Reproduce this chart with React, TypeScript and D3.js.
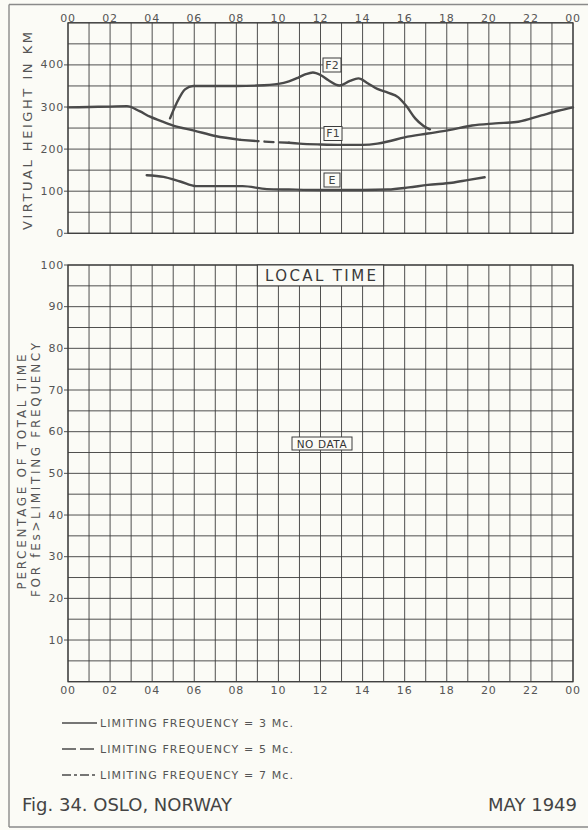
import React from "react";
import * as d3 from "d3";

// Hour-of-day tick labels along the time axes
const hourTicks = [0, 2, 4, 6, 8, 10, 12, 14, 16, 18, 20, 22, 24];
const hourLabels = ["00", "02", "04", "06", "08", "10", "12", "14", "16", "18", "20", "22", "00"];

// Virtual height axis (km)
const heightTicks = [0, 100, 200, 300, 400];
// Percentage axis
const percentTicks = [10, 20, 30, 40, 50, 60, 70, 80, 90, 100];

// Layer heights [hour, km]
const f2Layer: [number, number][] = [
  [4.85, 273], [5.16, 309], [5.56, 342], [5.95, 350], [7, 350], [8, 350], [9, 351],
  [10, 355], [10.5, 361], [10.95, 370], [11.3, 378], [11.64, 382], [12.0, 376],
  [12.36, 364], [12.9, 351], [13.4, 362], [13.8, 368], [14.26, 356], [14.7, 343],
  [15.2, 334], [15.7, 323], [16.1, 301], [16.5, 273], [16.9, 255], [17.2, 247],
];
const f1Layer: [number, number][] = [
  [0, 299], [1, 300], [2, 301], [2.8, 302], [3.4, 290], [3.9, 277], [4.5, 265],
  [5, 256], [6, 244], [7, 231], [8.2, 222], [9, 219], [10, 216], [10.5, 215],
  [11, 213], [12, 211], [13, 210], [14, 210], [14.7, 213], [15.2, 218], [16, 228],
  [17.1, 237], [18.1, 245], [19.2, 256], [20.3, 261], [21.4, 265], [22.5, 280],
  [23.3, 291], [24, 299],
];
const eLayer: [number, number][] = [
  [3.74, 138], [4.54, 134], [5.33, 123], [6.1, 112], [7.07, 112], [8.3, 112],
  [9.45, 105], [10.5, 104], [12, 103], [14, 103], [15.2, 104], [16.2, 109],
  [17.1, 115], [18.25, 120], [19.05, 127], [19.8, 133],
];

const layerNames = ["F2", "F1", "E"];
const legendLabels = [
  "LIMITING  FREQUENCY = 3 Mc.",
  "LIMITING  FREQUENCY = 5 Mc.",
  "LIMITING  FREQUENCY = 7 Mc.",
];

const W = 588;
const H = 830;
const INK = "#4a4a4a";
const GRID = "#3c3c3c";
const TEXT = "#555";
const FONT = "'DejaVu Sans', 'Liberation Sans', sans-serif";

const x = d3.scaleLinear().domain([0, 24]).range([68, 573]);
const yTop = d3.scaleLinear().domain([0, 500]).range([233.3, 22.8]);
const yBot = d3.scaleLinear().domain([0, 100]).range([681.7, 265]);

const line = d3
  .line<[number, number]>()
  .x((d) => x(d[0]))
  .y((d) => yTop(d[1]))
  .curve(d3.curveMonotoneX);

function Grid({ y, step, max }: { y: d3.ScaleLinear<number, number>; step: number; max: number }) {
  const hours = d3.range(0, 25);
  const rows = d3.range(0, max + step / 2, step);
  const [y0, y1] = [y(0), y(max)];
  return (
    <g stroke={GRID} strokeWidth={0.9} fill="none">
      {hours.map((h) => (
        <line key={"v" + h} x1={x(h)} x2={x(h)} y1={y0} y2={y1} />
      ))}
      {rows.map((r) => (
        <line key={"h" + r} x1={x(0)} x2={x(24)} y1={y(r)} y2={y(r)} />
      ))}
      <rect x={x(0)} y={y1} width={x(24) - x(0)} height={y0 - y1} strokeWidth={1.2} />
    </g>
  );
}

function YTicks({ y, ticks }: { y: d3.ScaleLinear<number, number>; ticks: number[] }) {
  return (
    <g fontFamily={FONT} fontSize={11} fill={TEXT}>
      {ticks.map((t) => (
        <g key={t}>
          <line x1={x(0) - 4} x2={x(0)} y1={y(t)} y2={y(t)} stroke={GRID} strokeWidth={0.9} />
          <text x={x(0) - 4} y={y(t)} textAnchor="end" dominantBaseline="central" letterSpacing={0.8}>
            {String(t)}
          </text>
        </g>
      ))}
    </g>
  );
}

function XLabels({ baseline }: { baseline: number }) {
  return (
    <g fontFamily={FONT} fontSize={11} fill={TEXT} textAnchor="middle" letterSpacing={0.8}>
      {hourTicks.map((h, i) => (
        <text key={i} x={x(h)} y={baseline}>
          {hourLabels[i]}
        </text>
      ))}
    </g>
  );
}

function BoxLabel({ cx, cy, text, w, h, size }: { cx: number; cy: number; text: string; w: number; h: number; size: number }) {
  return (
    <g>
      <rect x={cx - w / 2} y={cy - h / 2} width={w} height={h} fill="#fbfbf6" stroke={GRID} strokeWidth={1} />
      <text x={cx} y={cy} textAnchor="middle" dominantBaseline="central" fontFamily={FONT} fontSize={size} fill="#444">
        {text}
      </text>
    </g>
  );
}

export default function App() {
  const f1Morning = f1Layer.filter((d) => d[0] <= 8.2);
  const f1Broken = f1Layer.filter((d) => d[0] >= 8.2 && d[0] <= 10.5);
  const f1Rest = f1Layer.filter((d) => d[0] >= 10.5);
  const legendDash = [undefined, "14 4", "9 3 3 3"];

  return (
    <svg
      width={W}
      height={H}
      style={{ position: "absolute", left: 0, top: 0, background: "#fbfbf6" }}
    >
      <rect width={W} height={H} fill="#fbfbf6" />
      {/* page frame */}
      <g stroke="#8a8a8a" strokeWidth={1.4} fill="none">
        <line x1={9} x2={W} y1={4.5} y2={4.5} />
        <line x1={9} x2={9} y1={4.5} y2={827} />
        <line x1={9} x2={W} y1={827} y2={827} />
      </g>

      {/* upper panel: virtual height */}
      <Grid y={yTop} step={50} max={500} />
      <YTicks y={yTop} ticks={heightTicks} />
      <XLabels baseline={21.5} />
      <text
        transform={`translate(27,131) rotate(-90)`}
        textAnchor="middle"
        dominantBaseline="central"
        fontFamily={FONT}
        fontSize={13}
        fill={TEXT}
        textLength={198}
        lengthAdjust="spacing"
      >
        VIRTUAL HEIGHT IN KM
      </text>

      <g fill="none" stroke={INK} strokeWidth={2.4} strokeLinecap="round">
        <path d={line(f2Layer) ?? ""} />
        <path d={line(f1Morning) ?? ""} />
        <path d={line(f1Broken) ?? ""} strokeDasharray="18 6 9 6" />
        <path d={line(f1Rest) ?? ""} />
        <path d={line(eLayer) ?? ""} />
      </g>
      <BoxLabel cx={332} cy={65} text={layerNames[0]} w={18} h={14} size={11} />
      <BoxLabel cx={333} cy={133.5} text={layerNames[1]} w={18} h={14} size={11} />
      <BoxLabel cx={332} cy={180} text={layerNames[2]} w={16} h={14} size={11} />

      {/* lower panel: percentage of time */}
      <Grid y={yBot} step={5} max={100} />
      <YTicks y={yBot} ticks={percentTicks} />
      <XLabels baseline={694} />
      <g fontFamily={FONT} fontSize={12} fill={TEXT} textAnchor="middle" dominantBaseline="central">
        <text transform="translate(21.5,472) rotate(-90)" textLength={235} lengthAdjust="spacing">
          PERCENTAGE OF TOTAL TIME
        </text>
        <text transform="translate(36,470) rotate(-90)" textLength={254} lengthAdjust="spacing">
          FOR fEs&gt;LIMITING FREQUENCY
        </text>
      </g>

      <rect x={x(9)} y={yBot(100)} width={x(15) - x(9)} height={yBot(95) - yBot(100)} fill="#fbfbf6" stroke={GRID} strokeWidth={1} />
      <text
        x={(x(9) + x(15)) / 2}
        y={(yBot(100) + yBot(95)) / 2 + 1}
        textAnchor="middle"
        dominantBaseline="central"
        fontFamily={FONT}
        fontSize={15}
        fill="#3a3a3a"
        textLength={111}
        lengthAdjust="spacing"
      >
        LOCAL TIME
      </text>
      <rect x={292} y={437} width={60} height={13} fill="#fbfbf6" stroke={GRID} strokeWidth={1} />
      <text x={322} y={443.8} textAnchor="middle" dominantBaseline="central" fontFamily={FONT} fontSize={10.5} fill="#333" letterSpacing={0.6}>
        NO DATA
      </text>

      {/* legend */}
      <g fontFamily={FONT} fontSize={11} fill={TEXT}>
        {legendLabels.map((lab, i) => {
          const ly = 723 + i * 26;
          return (
            <g key={lab}>
              <line x1={62} x2={97} y1={ly} y2={ly} stroke={INK} strokeWidth={1.3} strokeDasharray={legendDash[i]} />
              <text x={100} y={ly} dominantBaseline="central" textLength={193} lengthAdjust="spacing">
                {lab}
              </text>
            </g>
          );
        })}
      </g>

      {/* caption */}
      <g fontFamily={FONT} fontSize={18} fill="#444">
        <text x={22} y={811} textLength={210} lengthAdjust="spacing">
          Fig. 34. OSLO, NORWAY
        </text>
        <text x={577} y={811} textAnchor="end">
          MAY 1949
        </text>
      </g>
    </svg>
  );
}
